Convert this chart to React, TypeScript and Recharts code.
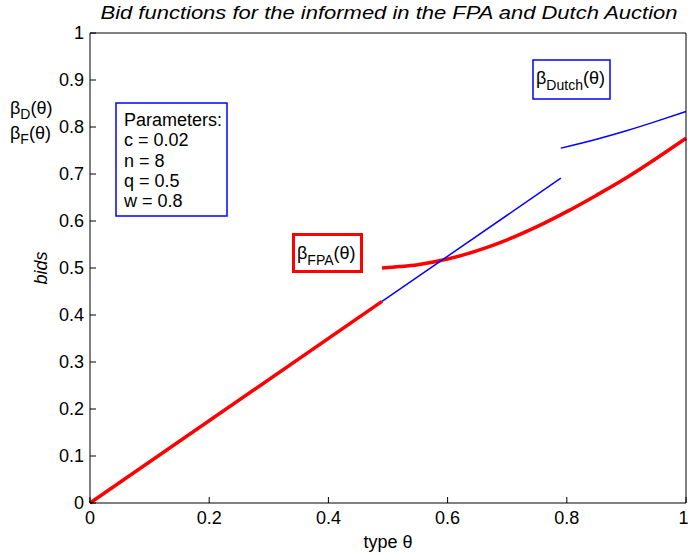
import { Line, LineChart, XAxis, YAxis } from 'recharts';

// bids, theta on [0, 1]
const fpaLow = [
  { theta: 0, bid: 0 },
  { theta: 0.49, bid: 0.429 },
];
const dutchLow = [
  { theta: 0.49, bid: 0.429 },
  { theta: 0.79, bid: 0.691 },
];
const dutchHigh = [
  { theta: 0.79, bid: 0.755 },
  { theta: 0.85, bid: 0.774 },
  { theta: 0.9, bid: 0.792 },
  { theta: 0.95, bid: 0.812 },
  { theta: 1, bid: 0.833 },
];
const fpaHigh = [
  { theta: 0.49, bid: 0.5 },
  { theta: 0.52, bid: 0.503 },
  { theta: 0.55, bid: 0.507 },
  { theta: 0.6, bid: 0.519 },
  { theta: 0.65, bid: 0.537 },
  { theta: 0.7, bid: 0.56 },
  { theta: 0.75, bid: 0.588 },
  { theta: 0.8, bid: 0.62 },
  { theta: 0.85, bid: 0.655 },
  { theta: 0.9, bid: 0.692 },
  { theta: 0.95, bid: 0.733 },
  { theta: 1, bid: 0.776 },
];

const xTicks = [0, 0.2, 0.4, 0.6, 0.8, 1];
const yTicks = [0, 0.1, 0.2, 0.3, 0.4, 0.5, 0.6, 0.7, 0.8, 0.9, 1];
const params = ['Parameters:', 'c = 0.02', 'n = 8', 'q = 0.5', 'w = 0.8'];

const FONT = '"Liberation Sans", Arial, Helvetica, sans-serif';
const RED = '#ff0000';
const BLUE = '#0000ff';
const tickStyle = { fill: '#000', fontSize: 18, fontFamily: FONT };

export default function App() {
  return (
    <div style={{ position: 'absolute', left: 0, top: 0, width: 688, height: 556, background: '#fff' }}>
      <LineChart width={688} height={556} margin={{ top: 32, right: 1, bottom: 23, left: 40 }}>
        <XAxis
          type="number"
          dataKey="theta"
          domain={[0, 1]}
          ticks={xTicks}
          height={30}
          tickSize={-6}
          tickMargin={14}
          tick={tickStyle}
          stroke="#000"
        />
        <XAxis
          xAxisId="top"
          orientation="top"
          type="number"
          domain={[0, 1]}
          ticks={xTicks}
          height={1}
          tickSize={-6}
          tick={false}
          stroke="#000"
        />
        <YAxis
          type="number"
          domain={[0, 1]}
          ticks={yTicks}
          width={50}
          tickSize={-6}
          tickMargin={12}
          tick={tickStyle}
          stroke="#000"
        />
        <YAxis
          yAxisId="right"
          orientation="right"
          type="number"
          domain={[0, 1]}
          ticks={yTicks}
          width={1}
          tickSize={-6}
          tick={false}
          stroke="#000"
        />
        <Line data={fpaLow} dataKey="bid" type="linear" stroke={RED} strokeWidth={3.5} dot={false} isAnimationActive={false} />
        <Line data={fpaHigh} dataKey="bid" type="monotone" stroke={RED} strokeWidth={3.5} dot={false} isAnimationActive={false} />
        <Line data={dutchLow} dataKey="bid" type="linear" stroke={BLUE} strokeWidth={1.5} dot={false} isAnimationActive={false} />
        <Line data={dutchHigh} dataKey="bid" type="monotone" stroke={BLUE} strokeWidth={1.5} dot={false} isAnimationActive={false} />
      </LineChart>

      <svg
        width={688}
        height={556}
        style={{ position: 'absolute', left: 0, top: 0, pointerEvents: 'none' }}
        fontFamily={FONT}
      >
        <text x={389} y={19} fontSize={18} fontStyle="italic" textAnchor="middle" textLength={577} lengthAdjust="spacingAndGlyphs">
          Bid functions for the informed in the FPA and Dutch Auction
        </text>
        <text x={388} y={548} fontSize={18} textAnchor="middle">
          type θ
        </text>
        <text x={47} y={268} fontSize={18} fontStyle="italic" textAnchor="middle" transform="rotate(-90 47 268)">
          bids
        </text>

        <text x={10} y={114} fontSize={18}>
          β<tspan fontSize={14} dy={5}>D</tspan>
          <tspan dy={-5}>(θ)</tspan>
        </text>
        <text x={10} y={139} fontSize={18}>
          β<tspan fontSize={14} dy={5}>F</tspan>
          <tspan dy={-5}>(θ)</tspan>
        </text>

        <rect x={116} y={103} width={111} height={113} fill="#fff" stroke={BLUE} strokeWidth={1.5} />
        {params.map((p, i) => (
          <text key={p} x={124} y={126 + i * 20.3} fontSize={18}>
            {p}
          </text>
        ))}

        <rect x={293.5} y={234.5} width={68} height={37} fill="#fff" stroke={RED} strokeWidth={3} />
        <text x={297} y={259} fontSize={18}>
          β<tspan fontSize={14} dy={6}>FPA</tspan>
          <tspan dy={-6}>(θ)</tspan>
        </text>

        <rect x={533} y={60} width={77} height={39} fill="#fff" stroke={BLUE} strokeWidth={1.5} />
        <text x={536} y={84} fontSize={18}>
          β<tspan fontSize={14} dy={6}>Dutch</tspan>
          <tspan dy={-6}>(θ)</tspan>
        </text>
      </svg>
    </div>
  );
}
